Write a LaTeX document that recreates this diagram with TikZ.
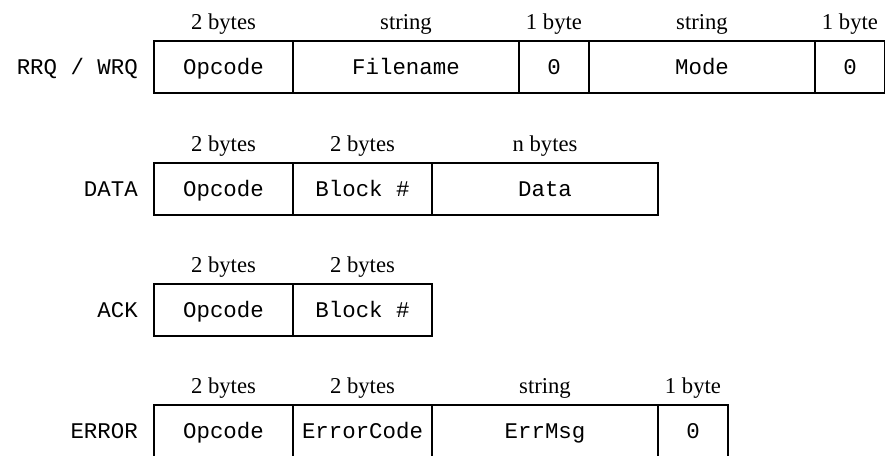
\documentclass[tikz,border=0pt]{standalone}
\usepackage{fontspec}
\setmainfont{Liberation Serif}
\setmonofont{Liberation Mono}
\usetikzlibrary{positioning}

\tikzset{
  field/.style={draw, line width=1.1pt, minimum height=39pt, inner sep=0pt,
    outer sep=0pt, text height=11pt, text depth=0pt,
    font=\fontsize{16.8}{19}\ttfamily},
  rowname/.style={font=\fontsize{16.8}{19}\ttfamily, inner sep=0pt,
    text height=11pt, text depth=0pt, left=12pt of #1},
  hdr/.style={font=\fontsize{17}{19}\selectfont, inner sep=0pt, label distance=5pt},
  twob/.style={minimum width=104.25pt},
  strb/.style={minimum width=169.5pt},
  oneb/.style={minimum width=52.5pt},
}

\begin{document}
\begin{tikzpicture}[x=0.75pt,y=-0.75pt]
  \useasboundingbox (0,0) rectangle (885,455);

  % RRQ / WRQ
  \node[field,twob,anchor=west,label={[hdr]above:2 bytes}] (rq1) at (154,67) {Opcode};
  \node[field,strb,right=0pt of rq1,label={[hdr]above:string}] (rq2) {Filename};
  \node[field,oneb,right=0pt of rq2,label={[hdr]above:1 byte}] (rq3) {0};
  \node[field,strb,right=0pt of rq3,label={[hdr]above:string}] (rq4) {Mode};
  \node[field,oneb,right=0pt of rq4,label={[hdr]above:1 byte}] (rq5) {0};
  \node[rowname=rq1] (rq) {RRQ / WRQ};

  % DATA
  \node[field,twob,anchor=west,label={[hdr]above:2 bytes}] (dt1) at (154,189) {Opcode};
  \node[field,twob,right=0pt of dt1,label={[hdr]above:2 bytes}] (dt2) {Block \#};
  \node[field,strb,right=0pt of dt2,label={[hdr]above:n bytes}] (dt3) {Data};
  \node[rowname=dt1] (dt) {DATA};

  % ACK
  \node[field,twob,anchor=west,label={[hdr]above:2 bytes}] (ak1) at (154,310) {Opcode};
  \node[field,twob,right=0pt of ak1,label={[hdr]above:2 bytes}] (ak2) {Block \#};
  \node[rowname=ak1] (ak) {ACK};

  % ERROR
  \node[field,twob,anchor=west,label={[hdr]above:2 bytes}] (er1) at (154,431) {Opcode};
  \node[field,twob,right=0pt of er1,label={[hdr]above:2 bytes}] (er2) {ErrorCode};
  \node[field,strb,right=0pt of er2,label={[hdr]above:string}] (er3) {ErrMsg};
  \node[field,oneb,right=0pt of er3,label={[hdr]above:1 byte}] (er4) {0};
  \node[rowname=er1] (er) {ERROR};
\end{tikzpicture}
\end{document}
